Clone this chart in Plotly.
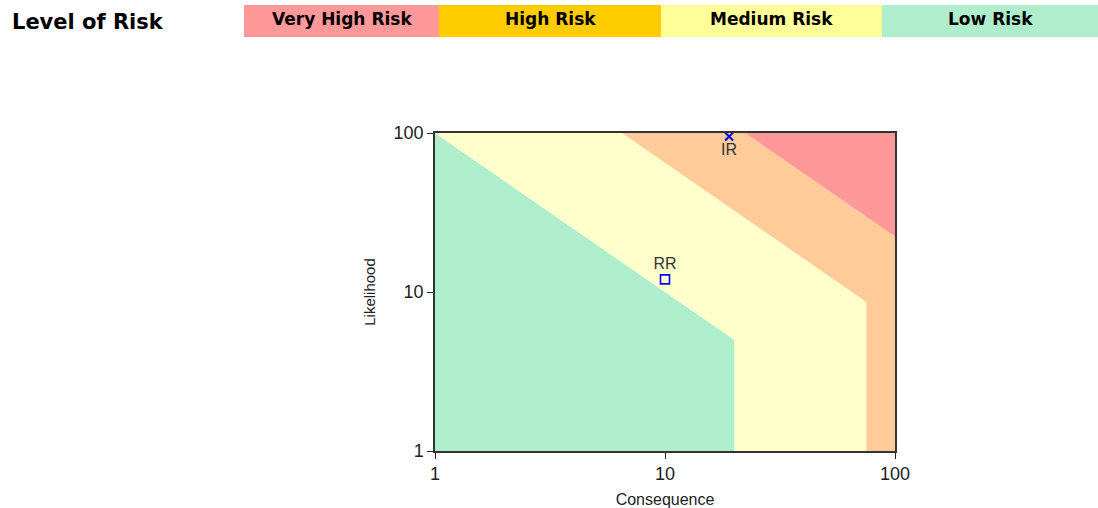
import plotly.graph_objects as go

# ---- data ----
legend_labels = ["Very High Risk", "High Risk", "Medium Risk", "Low Risk"]
legend_colors = ["#FF9999", "#FFCC00", "#FFFF99", "#AEEECC"]

zone_names = ["Low", "Medium", "High", "Very High"]
zone_colors = ["#AEEECC", "#FFFFCC", "#FFCC99", "#FF9999"]

low_product = 100      # L*C boundary of low zone
low_cons_max = 20      # consequence cut-off of low zone
med_product = 650      # L*C boundary of medium zone
med_cons_max = 75      # consequence cut-off of medium zone
vh_product = 2230      # L*C boundary of very high zone

axis_min = 1
axis_max = 100

point_labels = ["IR", "RR"]
point_cons = [19, 10]
point_like = [95, 12]
point_symbols = ["x-thin", "square-open"]
point_text_pos = ["bottom center", "top center"]

tick_vals = [1, 10, 100]
tick_text = ["1", "10", "100"]

# ---- build zone polygons from the thresholds ----
lo, hi = axis_min, axis_max
zones = {
    "Low": ([lo, lo, low_product / hi, low_cons_max, low_cons_max],
            [lo, hi, hi, low_product / low_cons_max, lo]),
    "Medium": ([lo, med_product / hi, med_cons_max, med_cons_max, low_cons_max, low_cons_max, low_product / hi],
               [hi, hi, med_product / med_cons_max, lo, lo, low_product / low_cons_max, hi]),
    "High": ([med_product / hi, vh_product / hi, hi, hi, med_cons_max, med_cons_max],
             [hi, hi, vh_product / hi, lo, lo, med_product / med_cons_max]),
    "Very High": ([vh_product / hi, hi, hi],
                  [hi, hi, vh_product / hi]),
}

SANS = "Liberation Sans, Arial, sans-serif"
BOLD = "DejaVu Sans, Verdana, sans-serif"

fig = go.Figure()
for name, col in zip(zone_names, zone_colors):
    xs, ys = zones[name]
    fig.add_trace(go.Scatter(x=xs, y=ys, fill="toself", fillcolor=col, mode="lines",
                             line=dict(width=0, color=col), hoverinfo="skip",
                             showlegend=False, name=name))

for lab, cx, ly, sym, tp in zip(point_labels, point_cons, point_like, point_symbols, point_text_pos):
    fig.add_trace(go.Scatter(
        x=[cx], y=[ly], mode="markers+text", text=[lab], textposition=tp,
        textfont=dict(family=SANS, size=16, color="#333333"),
        marker=dict(symbol=sym, size=9 if sym.startswith("square") else 8,
                    color="#0000EE", line=dict(width=2 if sym.startswith("x") else 1.6, color="#0000EE")),
        showlegend=False, cliponaxis=False))

W, H = 1098, 508
x0, x1 = 435, 895
y0, y1 = 133, 451

fig.update_layout(
    width=W, height=H, margin=dict(l=0, r=0, t=0, b=0, autoexpand=False),
    paper_bgcolor="white", plot_bgcolor="white",
    font=dict(family=SANS, color="#222222"),
    xaxis=dict(type="log", range=[0, 2], domain=[x0 / W, x1 / W],
               tickvals=tick_vals, ticktext=tick_text, ticks="outside", ticklen=6,
               tickcolor="#222222", showline=True, linecolor="#333333", linewidth=1.5,
               mirror=True, showgrid=False, zeroline=False,
               tickfont=dict(size=18), automargin=False,
               title=dict(text="Consequence", font=dict(size=16), standoff=10)),
    yaxis=dict(type="log", range=[0, 2], domain=[1 - y1 / H, 1 - y0 / H],
               tickvals=tick_vals, ticktext=tick_text, ticks="outside", ticklen=6,
               tickcolor="#222222", showline=True, linecolor="#333333", linewidth=1.5,
               mirror=True, showgrid=False, zeroline=False,
               tickfont=dict(size=18), automargin=False,
               title=dict(text="Likelihood", font=dict(size=15), standoff=14)),
)

# header legend
bar_edges = [244, 439, 661, 882, 1098]
for i, (lab, col) in enumerate(zip(legend_labels, legend_colors)):
    fig.add_shape(type="rect", xref="paper", yref="paper",
                  x0=bar_edges[i] / W, x1=bar_edges[i + 1] / W,
                  y0=1 - 37 / H, y1=1 - 5 / H, fillcolor=col, line=dict(width=0), layer="below")
    fig.add_annotation(x=(bar_edges[i] + bar_edges[i + 1]) / 2 / W, y=1 - 19 / H,
                       xref="paper", yref="paper", text="<b>" + lab + "</b>", showarrow=False,
                       xanchor="center", yanchor="middle",
                       font=dict(size=17, color="#000000", family=BOLD))

fig.add_annotation(x=10 / W, y=1 - 22 / H, xref="paper", yref="paper", xanchor="left",
                   yanchor="middle",
                   text="<b>Level of Risk</b>", showarrow=False,
                   font=dict(size=21, color="#000000", family=BOLD))

fig.write_html("out.html", config={"displayModeBar": False},
               post_script="document.body.style.margin='0';document.body.style.overflow='hidden';")
